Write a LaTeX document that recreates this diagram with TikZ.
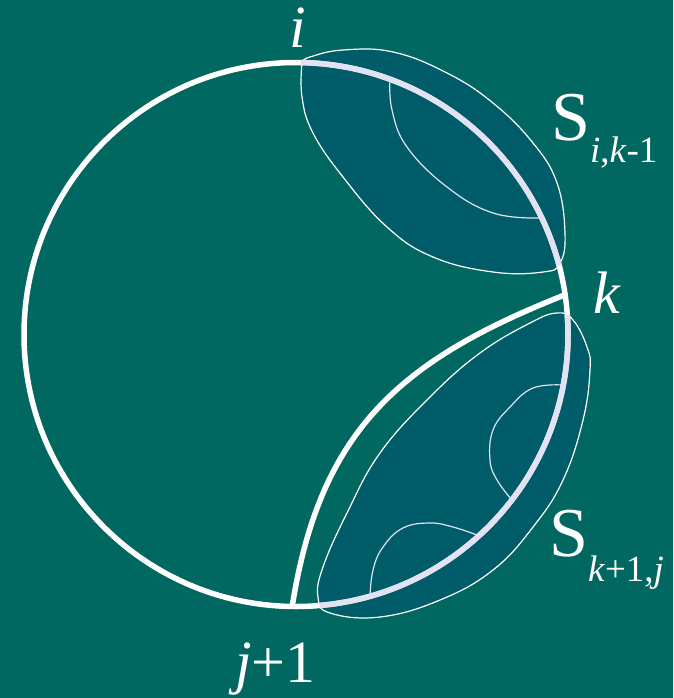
\documentclass[tikz,border=0pt]{standalone}
\usepackage{fontspec}
\setmainfont{Liberation Serif}
\usepackage{xcolor}
\usepackage{tikz}
\usetikzlibrary{calc}

\definecolor{bgteal}{RGB}{0,104,96}
\definecolor{regionteal}{RGB}{0,92,104}
\definecolor{lavarc}{RGB}{226,226,244}

\begin{document}
\begin{tikzpicture}[
    x=1pt, y=-1pt,
    bigline/.style={draw=white, line width=5.5pt},
    lavline/.style={draw=lavarc, line width=5.5pt},
    outline/.style={draw=white, line width=1.2pt},
    innerline/.style={draw=lavarc, line width=1.2pt},
    region/.style={fill=regionteal},
    lbl/.style={text=white, inner sep=0pt, font=\fontsize{60}{64}\selectfont}
  ]
  \fill[bgteal] (0,0) rectangle (673,698);
  \useasboundingbox (0,0) rectangle (673,698);
  \coordinate (ctr) at (296,334.5);

  % the two sub-polygons
  \path[region, outline] plot[smooth, tension=0.7] coordinates {(302,62) (302,97) (313,133) (343,177) (387,227) (433,257) (493,272) (543,272) (560,263) (565,233) (557,183) (533,143) (493,103) (447,73) (393,52) (343,50) (310,57) (302,62)} -- cycle;
  \path[region, outline] plot[smooth cycle, tension=0.7] coordinates {(557,313) (573,320) (587,347) (590,370) (583,420) (563,480) (533,527) (493,570) (440,600) (380,617) (330,613) (318,597) (323,567) (347,513) (380,453) (430,397) (480,353) (530,323)};

  % inner chords
  \draw[innerline] plot[smooth, tension=0.7] coordinates {(390,80) (392,110) (407,147) (447,187) (493,213) (540,218)};
  \draw[innerline] plot[smooth, tension=0.7] coordinates {(563,385) (533,388) (510,407) (493,430) (490,460) (497,480) (512,500)};
  \draw[innerline] plot[smooth, tension=0.7] coordinates {(477,535) (453,527) (430,523) (403,528) (383,547) (373,570) (370,597)};

  % the polygon circle
  \draw[bigline] (ctr) circle[radius=272];
  \draw[lavline] ($(ctr)+(-89:272)$) arc[start angle=-89, end angle=-14.7, radius=272];
  \draw[lavline] ($(ctr)+(-4.1:272)$) arc[start angle=-4.1, end angle=85, radius=272];

  % chord k -- j+1
  \coordinate (k) at ($(ctr)+(-8.4:272)$);
  \coordinate (j1) at ($(ctr)+(90.8:272)$);
  \draw[bigline] (k) .. controls (400,360) and (320,430) .. (j1);

  % labels
  \node (lbli) [lbl, anchor=base] at (298,48) {\textit{i}};
  \node (lblk) [lbl, anchor=base] at (607,313) {\textit{k}};
  \node (lblj) [lbl, anchor=base east] at (316,682) {\textit{j}+1};
  \node (sik) [lbl, anchor=base west, font=\fontsize{70}{74}\selectfont] at (551,140)
    {S\raisebox{-22pt}{\fontsize{37}{40}\selectfont\textit{i},\textit{k}-1}};
  \node (skj) [lbl, anchor=base west, font=\fontsize{70}{74}\selectfont] at (549,556)
    {S\raisebox{-25pt}{\fontsize{37}{40}\selectfont\textit{k}+1,\textit{j}}};
\end{tikzpicture}
\end{document}
